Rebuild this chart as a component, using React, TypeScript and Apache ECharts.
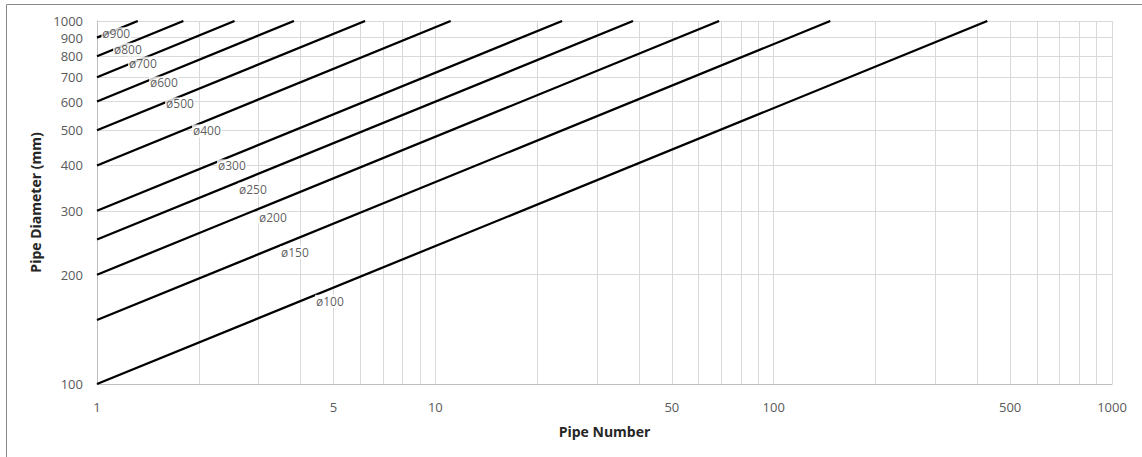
import React, { useEffect, useRef } from "react";
import * as echarts from "echarts";

// Pipe diameters (mm) of each line, which start at pipe number 1
const DIAMETERS = [100, 150, 200, 250, 300, 400, 500, 600, 700, 800, 900];
// Pipe number where each line reaches the top of the chart (1000 mm)
const END_PIPE_NUMBER = [428, 147, 69, 38.4, 23.7, 11.1, 6.2, 3.82, 2.55, 1.8, 1.32];
const START_PIPE_NUMBER = 1;
const TOP_DIAMETER = 1000;
// Label anchor positions (pipe number, diameter)
const LABEL_N = [4.41, 3.475, 2.991, 2.611, 2.263, 1.909, 1.589, 1.425, 1.235, 1.115, 1.03];
const LABEL_D = [169, 230, 287, 344, 399, 498, 591, 675, 766, 836, 922];

const X_GRID = [1, 2, 3, 4, 5, 6, 7, 8, 9, 10, 20, 30, 40, 50, 60, 70, 80, 90, 100, 200, 300, 400, 500, 600, 700, 800, 900, 1000];
const X_LABELS = [1, 5, 10, 50, 100, 500, 1000];
const Y_GRID = [100, 200, 300, 400, 500, 600, 700, 800, 900, 1000];
const Y_LABELS = [100, 200, 300, 400, 500, 600, 700, 800, 900, 1000];

const lg = (v: number) => Math.log10(v);
const FONT = "'Open Sans', 'Liberation Sans', sans-serif";

export default function App() {
  const ref = useRef<HTMLDivElement>(null);
  useEffect(() => {
    const chart = echarts.init(ref.current!, null, { renderer: "svg" });
    const lineSeries = DIAMETERS.map((d, i) => ({
      type: "line",
      name: `ø${d}`,
      data: [
        [lg(START_PIPE_NUMBER), lg(d)],
        [lg(END_PIPE_NUMBER[i]), lg(TOP_DIAMETER)],
      ],
      symbol: "none",
      showSymbol: false,
      lineStyle: { color: "#000", width: 2.25 },
      z: 2,
      silent: true,
    }));
    const labelSeries = {
      type: "scatter",
      symbolSize: 0,
      z: 6,
      silent: true,
      data: DIAMETERS.map((d, i) => ({
        name: `ø${d}`,
        value: [lg(LABEL_N[i]), lg(LABEL_D[i])],
      })),
      label: {
        show: true,
        position: "right",
        distance: 0,
        formatter: "{b}",
        backgroundColor: "#fff",
        padding: [1, 1, 0, 1],
        lineHeight: 12,
        fontSize: 12,
        fontFamily: FONT,
        color: "#333333",
      },
    };
    const fmt = (v: number) => String(Math.round(Math.pow(10, v)));
    chart.setOption({
      animation: false,
      backgroundColor: "#fff",
      grid: { left: 97, right: 30, top: 21, bottom: 73, containLabel: false },
      xAxis: {
        type: "value",
        min: 0,
        max: 3,
        name: "Pipe Number",
        nameLocation: "middle",
        nameGap: 40,
        nameTextStyle: { fontFamily: FONT, fontSize: 14, fontWeight: "bold", color: "#262626" },
        axisLine: { show: true, lineStyle: { color: "#bfbfbf", width: 1 } },
        axisTick: { show: false, customValues: X_GRID.map(lg) },
        axisLabel: {
          customValues: X_LABELS.map(lg),
          formatter: fmt,
          margin: 16,
          fontFamily: FONT,
          fontSize: 13,
          color: "#595959",
        },
        splitLine: { show: true, lineStyle: { color: "#d9d9d9", width: 1 } },
      },
      yAxis: {
        type: "value",
        min: 2,
        max: 3,
        name: "Pipe Diameter (mm)",
        nameLocation: "middle",
        nameGap: 52,
        nameTextStyle: { fontFamily: FONT, fontSize: 14, fontWeight: "bold", color: "#262626" },
        axisLine: { show: true, lineStyle: { color: "#bfbfbf", width: 1 } },
        axisTick: { show: false, customValues: Y_GRID.map(lg) },
        axisLabel: {
          customValues: Y_LABELS.map(lg),
          formatter: fmt,
          margin: 14,
          fontFamily: FONT,
          fontSize: 13,
          color: "#595959",
        },
        splitLine: { show: true, lineStyle: { color: "#d9d9d9", width: 1 } },
      },
      graphic: [
        {
          type: "rect",
          silent: true,
          shape: { x: 6.5, y: 4.5, width: 1200, height: 500 },
          style: { fill: "none", stroke: "#8a8a8a", lineWidth: 1 },
        },
      ],
      series: [...lineSeries, labelSeries],
    });
    return () => chart.dispose();
  }, []);
  return (
    <div
      ref={ref}
      style={{ position: "fixed", left: 0, top: 0, width: 1142, height: 457 }}
    />
  );
}
